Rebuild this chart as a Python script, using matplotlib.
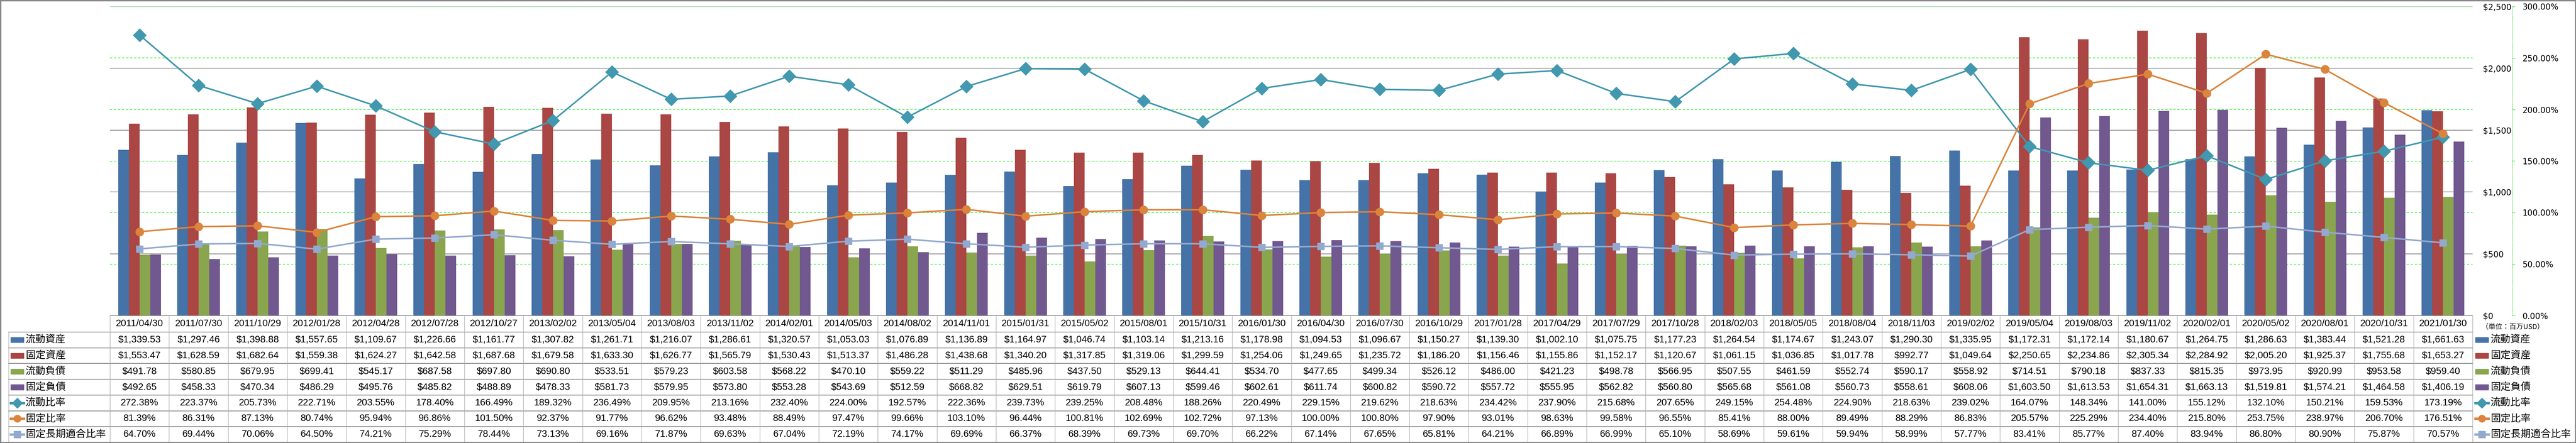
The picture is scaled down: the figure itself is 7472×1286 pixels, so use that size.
import matplotlib
matplotlib.use('Agg')
import matplotlib.pyplot as plt
import matplotlib.transforms as mtransforms
from matplotlib import font_manager
from matplotlib.patches import Rectangle
from matplotlib.lines import Line2D
from matplotlib.ticker import FuncFormatter, MultipleLocator
import numpy as np

# data (million USD / %)
dates = ['2011/04/30', '2011/07/30', '2011/10/29', '2012/01/28', '2012/04/28', '2012/07/28',
         '2012/10/27', '2013/02/02', '2013/05/04', '2013/08/03', '2013/11/02', '2014/02/01',
         '2014/05/03', '2014/08/02', '2014/11/01', '2015/01/31', '2015/05/02', '2015/08/01',
         '2015/10/31', '2016/01/30', '2016/04/30', '2016/07/30', '2016/10/29', '2017/01/28',
         '2017/04/29', '2017/07/29', '2017/10/28', '2018/02/03', '2018/05/05', '2018/08/04',
         '2018/11/03', '2019/02/02', '2019/05/04', '2019/08/03', '2019/11/02', '2020/02/01',
         '2020/05/02', '2020/08/01', '2020/10/31', '2021/01/30']
current_assets = [1339.53, 1297.46, 1398.88, 1557.65, 1109.67, 1226.66, 1161.77, 1307.82, 1261.71, 1216.07,
                  1286.61, 1320.57, 1053.03, 1076.89, 1136.89, 1164.97, 1046.74, 1103.14, 1213.16, 1178.98,
                  1094.53, 1096.67, 1150.27, 1139.30, 1002.10, 1075.75, 1177.23, 1264.54, 1174.67, 1243.07,
                  1290.30, 1335.95, 1172.31, 1172.14, 1180.67, 1264.75, 1286.63, 1383.44, 1521.28, 1661.63]
fixed_assets = [1553.47, 1628.59, 1682.64, 1559.38, 1624.27, 1642.58, 1687.68, 1679.58, 1633.30, 1626.77,
                1565.79, 1530.43, 1513.37, 1486.28, 1438.68, 1340.20, 1317.85, 1319.06, 1299.59, 1254.06,
                1249.65, 1235.72, 1186.20, 1156.46, 1155.86, 1152.17, 1120.67, 1061.15, 1036.85, 1017.78,
                992.77, 1049.64, 2250.65, 2234.86, 2305.34, 2284.92, 2005.20, 1925.37, 1755.68, 1653.27]
current_liab = [491.78, 580.85, 679.95, 699.41, 545.17, 687.58, 697.80, 690.80, 533.51, 579.23,
                603.58, 568.22, 470.10, 559.22, 511.29, 485.96, 437.50, 529.13, 644.41, 534.70,
                477.65, 499.34, 526.12, 486.00, 421.23, 498.78, 566.95, 507.55, 461.59, 552.74,
                590.17, 558.92, 714.51, 790.18, 837.33, 815.35, 973.95, 920.99, 953.58, 959.40]
fixed_liab = [492.65, 458.33, 470.34, 486.29, 495.76, 485.82, 488.89, 478.33, 581.73, 579.95,
              573.80, 553.28, 543.69, 512.59, 668.82, 629.51, 619.79, 607.13, 599.46, 602.61,
              611.74, 600.82, 590.72, 557.72, 555.95, 562.82, 560.80, 565.68, 561.08, 560.73,
              558.61, 608.06, 1603.50, 1613.53, 1654.31, 1663.13, 1519.81, 1574.21, 1464.58, 1406.19]
current_ratio = [272.38, 223.37, 205.73, 222.71, 203.55, 178.40, 166.49, 189.32, 236.49, 209.95,
                 213.16, 232.40, 224.00, 192.57, 222.36, 239.73, 239.25, 208.48, 188.26, 220.49,
                 229.15, 219.62, 218.63, 234.42, 237.90, 215.68, 207.65, 249.15, 254.48, 224.90,
                 218.63, 239.02, 164.07, 148.34, 141.00, 155.12, 132.10, 150.21, 159.53, 173.19]
fixed_ratio = [81.39, 86.31, 87.13, 80.74, 95.94, 96.86, 101.50, 92.37, 91.77, 96.62,
               93.48, 88.49, 97.47, 99.66, 103.10, 96.44, 100.81, 102.69, 102.72, 97.13,
               100.00, 100.80, 97.90, 93.01, 98.63, 99.58, 96.55, 85.41, 88.00, 89.49,
               88.29, 86.83, 205.57, 225.29, 234.40, 215.80, 253.75, 238.97, 206.70, 176.51]
fixed_lt_ratio = [64.70, 69.44, 70.06, 64.50, 74.21, 75.29, 78.44, 73.13, 69.16, 71.87,
                  69.63, 67.04, 72.19, 74.17, 69.69, 66.37, 68.39, 69.73, 69.70, 66.22,
                  67.14, 67.65, 65.81, 64.21, 66.89, 66.99, 65.10, 58.69, 59.61, 59.94,
                  58.99, 57.77, 83.41, 85.77, 87.40, 83.94, 86.80, 80.90, 75.87, 70.57]

names = ['流動資産', '固定資産', '流動負債', '固定負債', '流動比率', '固定比率', '固定長期適合比率']
colors = ['#4572A7', '#AA4643', '#89A54E', '#71588F', '#4198AF', '#DB843D', '#93A9CF']
markers = [None, None, None, None, 'D', 'o', 's']
unit_label = '（単位：百万USD）'

W, H = 7472, 1286
fig = plt.figure(figsize=(W / 100, H / 100), dpi=100)

available = {f.name for f in font_manager.fontManager.ttflist}
if 'Liberation Sans Narrow' in available:
    num_font, num_size = 'Liberation Sans Narrow', 24
else:
    num_font, num_size = 'Liberation Sans', 20
cjk = 'Noto Sans CJK JP'


def fx(px):
    return px / W


def fy(py):
    return 1 - py / H


left, right = 319, 7172
top, base = 19, 916
n = len(dates)
x = np.arange(n)

# main chart
ax = fig.add_axes([fx(left), fy(base), fx(right) - fx(left), fy(top) - fy(base)])
bw = 0.181
bar_series = [current_assets, fixed_assets, current_liab, fixed_liab]
for k, vals in enumerate(bar_series):
    ax.bar(x + (k - 1.5) * bw, vals, width=bw, color=colors[k], zorder=3)
ax.set_xlim(-0.5, n - 0.5)
ax.set_ylim(0, 2500)
ax.set_xticks([])
ax.grid(axis='y', color='#8a8a8a', lw=1.5, zorder=1)
ax.set_axisbelow(True)
for s in ['left', 'right', 'top']:
    ax.spines[s].set_visible(False)
ax.spines['bottom'].set_color('#8a8a8a')

# secondary axis (ratios)
ax2 = ax.twinx()
ax2.set_ylim(0, 300)
ax2.yaxis.set_major_locator(MultipleLocator(50))
ax2.yaxis.set_major_formatter(FuncFormatter(lambda v, p: f'{v:.2f}%'))
for s in ['left', 'top', 'bottom']:
    ax2.spines[s].set_visible(False)
ax2.spines['right'].set_position(('outward', (7287 - right) * 0.72))
ax2.spines['right'].set_linestyle((0, (3, 2)))
ax2.spines['right'].set_color('#22dd22')
ax2.tick_params(axis='y', color='#22dd22', labelcolor='black', length=6, width=1,
                pad=15, labelsize=17)

# primary $ labels sit on the right too (twinx resets them to the left)
ax.yaxis.tick_right()
ax.yaxis.set_major_locator(MultipleLocator(500))
ax.yaxis.set_major_formatter(FuncFormatter(lambda v, p: f'${v:,.0f}'))
ax.tick_params(axis='y', which='both', left=False, labelleft=False, right=True, labelright=True,
               length=0, pad=21.6, labelsize=17)

# green dashed grid of the secondary scale, kept under the bars
for t in np.arange(50, 301, 50):
    ax.axhline(t * 2500 / 300, color='#22ee22', lw=1.2, ls=(0, (4, 3)), zorder=2)

line_series = [current_ratio, fixed_ratio, fixed_lt_ratio]
msizes = [19, 17, 14]
for k, vals in enumerate(line_series):
    ax2.plot(x, vals, color=colors[4 + k], lw=3.2, marker=markers[4 + k], ms=msizes[k], zorder=4)

# data table
tb_bot = 1284
axt = fig.add_axes([fx(left), fy(tb_bot), fx(right) - fx(left), fy(base) - fy(tb_bot)])
hdr = 48 / 45.7
axt.set_xlim(-0.5, n - 0.5)
axt.set_ylim(7, -hdr)
axt.axis('off')
trans = mtransforms.blended_transform_factory(fig.transFigure, axt.transData)

for i, d in enumerate(dates):
    axt.text(i, -hdr / 2, d, ha='center', va='center', fontsize=num_size, family=[num_font, cjk])

all_series = bar_series + line_series
for r, vals in enumerate(all_series):
    for i, v in enumerate(vals):
        label = f'${v:,.2f}' if r < 4 else f'{v:.2f}%'
        axt.text(i, r + 0.5, label, ha='center', va='center', fontsize=num_size,
                 family=[num_font, cjk])

for r in range(7):
    axt.add_line(Line2D([fx(25), fx(right)], [r, r], transform=trans, color='#8f8f8f',
                        lw=1.6, clip_on=False))
for k in range(n + 1):
    axt.plot([k - 0.5, k - 0.5], [-hdr, 7], color='#a8a8a8', lw=1, clip_on=False)
axt.add_line(Line2D([fx(25), fx(25)], [0, 7], transform=trans, color='#a8a8a8', lw=1, clip_on=False))


def legend_key(x0, x1, r, k):
    if markers[k] is None:
        axt.add_patch(Rectangle((fx(x0), r + 0.335), fx(x1) - fx(x0), 0.33, transform=trans,
                                color=colors[k], clip_on=False))
    else:
        axt.add_line(Line2D([fx(x0), fx(x1)], [r + 0.5, r + 0.5], transform=trans,
                            color=colors[k], lw=5, clip_on=False))
        axt.add_line(Line2D([fx((x0 + x1) / 2)], [r + 0.5], transform=trans, color=colors[k],
                            marker=markers[k], ms=15, clip_on=False))


for r, name in enumerate(names):
    legend_key(31, 69, r, r)
    axt.text(fx(74), r + 0.5, name, transform=trans, ha='left', va='center', fontsize=21,
             family=[cjk, 'DejaVu Sans'])
    legend_key(7180, 7218, r, r)
    axt.text(fx(7224), r + 0.5, name, transform=trans, ha='left', va='center', fontsize=21,
             family=[cjk, 'DejaVu Sans'])

axt.text(fx(7198), -hdr / 2 + 0.2, unit_label, transform=trans, ha='left', va='center',
         fontsize=14.5, family=[cjk, 'DejaVu Sans'])

# outer frame
fig.patches.append(Rectangle((0, 0), 1, 1, transform=fig.transFigure, fill=False,
                             edgecolor='#868686', lw=5))

fig.savefig('out.png', dpi=100)
